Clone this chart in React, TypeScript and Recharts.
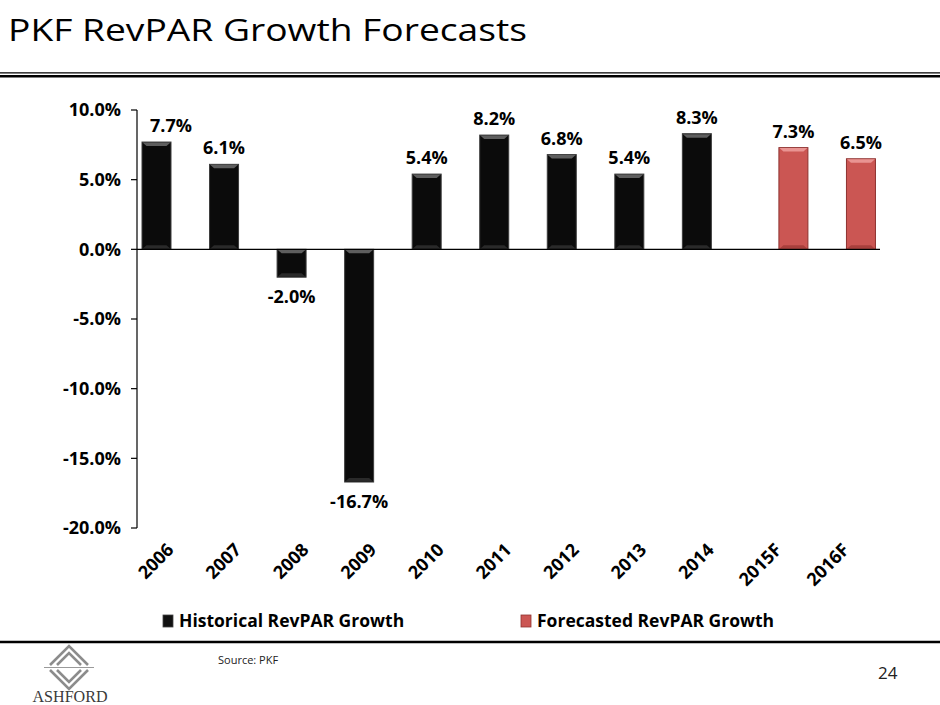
import React from "react";
import {
  BarChart,
  Bar,
  XAxis,
  YAxis,
  ReferenceLine,
  LabelList,
} from "recharts";

const categories = ["2006", "2007", "2008", "2009", "2010", "2011", "2012", "2013", "2014", "2015F", "2016F"];
const historicalValues: (number | null)[] = [7.7, 6.1, -2.0, -16.7, 5.4, 8.2, 6.8, 5.4, 8.3, null, null];
const forecastValues: (number | null)[] = [null, null, null, null, null, null, null, null, null, 7.3, 6.5];
const yTicks = [-20, -15, -10, -5, 0, 5, 10];
const seriesNames = ["Historical RevPAR Growth", "Forecasted RevPAR Growth"];

const data = categories.map((c, i) => ({
  category: c,
  historical: historicalValues[i],
  forecast: forecastValues[i],
}));

const FONT = "'Open Sans', 'DejaVu Sans', sans-serif";
const PLOT_LEFT = 137;

const BLACK = { base: "#0b0b0b", edge: "#3c3c3c", light: "#5e5e5e", dark: "#2a2a2a" };
const RED = { base: "#cb5653", edge: "#8e3230", light: "#e99492", dark: "#a8403d" };

const BevelBar = (props: any) => {
  const { x, y, width, height, palette } = props;
  if (height == null || !width || height === 0) return null;
  const top = Math.min(y, y + height);
  const h = Math.abs(height);
  const b = Math.min(4, h / 3);
  return (
    <g>
      <rect x={x} y={top} width={width} height={h} fill={palette.base} stroke={palette.edge} strokeWidth={1} />
      <polygon
        points={`${x + 0.5},${top + 0.5} ${x + width - 0.5},${top + 0.5} ${x + width - 0.5 - b},${top + b} ${x + 0.5 + b},${top + b}`}
        fill={palette.light}
      />
      <polygon
        points={`${x + 0.5},${top + h - 0.5} ${x + width - 0.5},${top + h - 0.5} ${x + width - 0.5 - b},${top + h - b} ${x + 0.5 + b},${top + h - b}`}
        fill={palette.dark}
      />
    </g>
  );
};

const renderLabel = (props: any) => {
  const { x, y, width, height, value } = props;
  if (value == null) return null;
  const top = Math.min(y, y + height);
  const bottom = Math.max(y, y + height);
  let cx = x + width / 2;
  // keep label clear of the value axis, as the original does
  if (cx - 21 < PLOT_LEFT + 12) cx = PLOT_LEFT + 34;
  const ty = value >= 0 ? top - 10 : bottom + 26;
  return (
    <text x={cx} y={ty} textAnchor="middle" fontFamily={FONT} fontWeight={700} fontSize={18} fill="#000">
      {`${Number(value).toFixed(1)}%`}
    </text>
  );
};

const XTick = (props: any) => {
  const { x, y, payload } = props;
  return (
    <g transform={`translate(${x + 4},${y + 23})`}>
      <text textAnchor="end" transform="rotate(-45)" fontFamily={FONT} fontWeight={700} fontSize={18} fill="#000">
        {payload.value}
      </text>
    </g>
  );
};

export default function App() {
  return (
    <div style={{ position: "absolute", left: 0, top: 0, width: 940, height: 705, background: "#fff", overflow: "hidden" }}>
      <svg width={940} height={705} style={{ position: "absolute", left: 0, top: 0 }}>
        <text x={8} y={41} fontFamily={FONT} fontSize={31} fill="#000" textLength={519} lengthAdjust="spacingAndGlyphs">
          PKF RevPAR Growth Forecasts
        </text>
        <line x1={0} x2={940} y1={72.8} y2={72.8} stroke="#000" strokeWidth={1.2} />
        <line x1={0} x2={940} y1={76.3} y2={76.3} stroke="#000" strokeWidth={2.4} />
        <line x1={0} x2={940} y1={642} y2={642} stroke="#000" strokeWidth={2.4} />
        {/* logo */}
        <g stroke="#8c8c8c" fill="none" strokeWidth={2.6}>
          <polyline points="50,665 69,646 88,665" />
          <polyline points="57,665 69,653 81,665" />
          <polyline points="50,670 69,689 88,670" />
          <polyline points="57,670 69,682 81,670" />
        </g>
        <line x1={44} x2={94} y1={667.5} y2={667.5} stroke="#9a9a9a" strokeWidth={1} />
        <text x={70} y={702} textAnchor="middle" fontFamily="'Liberation Serif', 'DejaVu Serif', serif" fontSize={16} fill="#3a3a3a" textLength={75} lengthAdjust="spacingAndGlyphs">
          ASHFORD
        </text>
        <text x={218} y={664} fontFamily={FONT} fontSize={11} fill="#222">Source:  PKF</text>
        <text x={878} y={679} fontFamily={FONT} fontSize={17} fill="#222">24</text>
        {/* legend */}
        <rect x={163} y={615} width={10} height={12} fill="#111" stroke="#444" strokeWidth={0.8} />
        <text x={179} y={627} fontFamily={FONT} fontWeight={700} fontSize={17.5} fill="#000">{seriesNames[0]}</text>
        <rect x={521} y={615} width={10} height={12} fill={RED.base} stroke={RED.edge} strokeWidth={0.8} />
        <text x={537} y={627} fontFamily={FONT} fontWeight={700} fontSize={17.5} fill="#000">{seriesNames[1]}</text>
      </svg>
      <div style={{ position: "absolute", left: 0, top: 0 }}>
        <BarChart
          width={940}
          height={705}
          data={data}
          margin={{ top: 110, right: 60, bottom: 117, left: 0 }}
          barGap={0}
          barSize={29}
        >
          <XAxis
            dataKey="category"
            axisLine={false}
            tickLine={false}
            tickSize={0}
            tickMargin={0}
            height={60}
            interval={0}
            tick={<XTick />}
          />
          <YAxis
            domain={[-20, 10]}
            ticks={yTicks}
            width={137}
            axisLine={{ stroke: "#000", strokeWidth: 1.2 }}
            tickLine={{ stroke: "#000", strokeWidth: 1.2 }}
            tickSize={6}
            tickMargin={10}
            allowDataOverflow
            tickFormatter={(v: number) => `${v.toFixed(1)}%`}
            tick={{ fontFamily: FONT, fontWeight: 700, fontSize: 18, fill: "#000" }}
          />
          <Bar
            dataKey="historical"
            name={seriesNames[0]}
            isAnimationActive={false}
            shape={(p: any) => <BevelBar {...p} palette={BLACK} />}
          >
            <LabelList dataKey="historical" content={renderLabel} />
          </Bar>
          <Bar
            dataKey="forecast"
            name={seriesNames[1]}
            isAnimationActive={false}
            shape={(p: any) => <BevelBar {...p} palette={RED} />}
          >
            <LabelList dataKey="forecast" content={renderLabel} />
          </Bar>
          <ReferenceLine y={0} stroke="#000" strokeWidth={1.3} />
        </BarChart>
      </div>
    </div>
  );
}
